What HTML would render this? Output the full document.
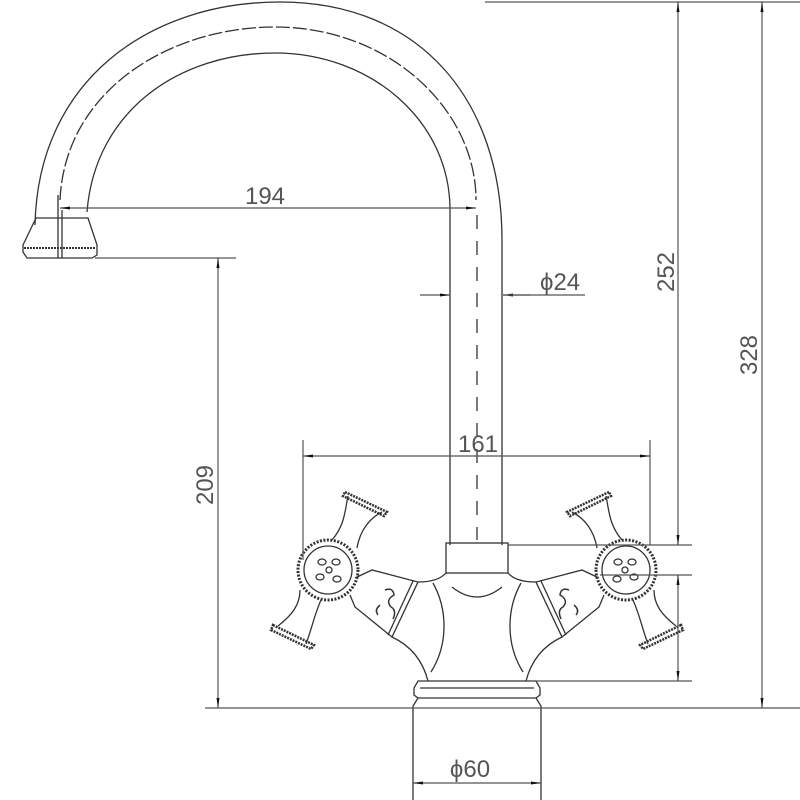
<!DOCTYPE html>
<html><head><meta charset="utf-8"><style>html,body{margin:0;padding:0;background:#fff}svg{display:block}text{font-family:"Liberation Sans",sans-serif;font-size:24px;fill:#555}</style></head>
<body>
<svg width="800" height="800" viewBox="0 0 800 800" xmlns="http://www.w3.org/2000/svg">
<defs>
<marker id="a" viewBox="0 0 10 4" refX="10" refY="2" markerWidth="10" markerHeight="4" orient="auto-start-reverse" markerUnits="userSpaceOnUse"><path d="M0,0.5 L10,2 L0,3.5z" fill="#111"/></marker>
<g id="h" fill="none" stroke="#333" stroke-width="1.3">
<circle cx="328" cy="570" r="30" stroke-width="3" stroke-dasharray="2,1.5"/>
<circle cx="328" cy="570" r="24"/>
<ellipse cx="322" cy="562" rx="4" ry="3"/><ellipse cx="336" cy="562" rx="4" ry="3"/><circle cx="329" cy="570" r="3"/><ellipse cx="320" cy="577" rx="4" ry="3"/><ellipse cx="337" cy="579" rx="4" ry="3"/>
<path d="M332,540 C345,525 345,510 348,496 M357,548 C360,530 370,518 382,512"/>
<path d="M345,492 L387,512 L384,516 L343,496z" stroke-width="2.5" stroke-dasharray="2,1"/>
<path d="M300,590 C300,605 292,615 278,626 M322,598 C315,612 313,625 306,644"/>
<path d="M273,625 L314,645 L311,649 L271,630z" stroke-width="2.5" stroke-dasharray="2,1"/>
<path d="M355,578 L372,570 L418,582 L392,637 L355,607 L350,595"/>
<line x1="413" y1="581" x2="388" y2="635"/>
<path d="M385,590 q8,-3 9,5 q-9,5 -3,12 q6,3 2,12 M380,605 q-6,5 -2,10" stroke-width="1.5"/>
<path d="M418,582 Q438,582 446,573"/>
<path d="M433,583 C448,610 448,645 431,672"/>
<path d="M392,637 Q420,650 428,681"/>
</g>
</defs>
<g fill="none" stroke="#333" stroke-width="1.3">
<path d="M35,225 C38,80 150,2 280,2 C420,2 502,100 502,240 L502,545"/>
<path d="M60,200 C65,90 170,27 275,27 C390,27 476,110 476,200" stroke-dasharray="14,3"/>
<path d="M87,212 C95,110 180,53 275,53 C370,53 450,120 450,210 L450,545"/>
<line x1="477" y1="215" x2="477" y2="540" stroke-dasharray="14,12"/>
<path d="M36,218 L88,218 L97,245 L97,255 L92,258 L27,258 L23,252 L23,245z"/>
<line x1="24" y1="248" x2="96" y2="248" stroke-dasharray="2,1" stroke-width="2"/>
<line x1="58" y1="195" x2="58" y2="258"/><line x1="62" y1="210" x2="62" y2="258"/>
<rect x="446" y="543" width="62" height="30"/>
<path d="M452,587 Q477,607 502,587"/>
<path d="M418,681 L536,681 L540,688 L540,695 L536,698 L418,698 L414,695 L414,688z"/>
<line x1="420" y1="688" x2="534" y2="688"/>
<path d="M418,698 L413,706 L413,800 M536,698 L541,706 L541,800"/>
</g>
<use href="#h"/>
<use href="#h" transform="translate(954,0) scale(-1,1)"/>
<g fill="none" stroke="#555" stroke-width="1.2">
<line x1="485" y1="2" x2="800" y2="2"/>
<line x1="205" y1="708" x2="800" y2="708"/>
<line x1="95" y1="258" x2="236" y2="258"/>
<line x1="508" y1="545" x2="692" y2="545"/>
<line x1="600" y1="575" x2="692" y2="575"/>
<line x1="530" y1="681" x2="692" y2="681"/>
<line x1="303" y1="440" x2="303" y2="560"/>
<line x1="650" y1="440" x2="650" y2="545"/>
<line x1="60" y1="208" x2="476" y2="208" marker-start="url(#a)" marker-end="url(#a)"/>
<line x1="420" y1="295" x2="450" y2="295" marker-end="url(#a)"/>
<line x1="530" y1="295" x2="503" y2="295" marker-end="url(#a)"/>
<line x1="503" y1="295" x2="585" y2="295"/>
<line x1="303" y1="456" x2="650" y2="456" marker-start="url(#a)" marker-end="url(#a)"/>
<line x1="678" y1="2" x2="678" y2="545" marker-start="url(#a)" marker-end="url(#a)"/>
<line x1="678" y1="575" x2="678" y2="681" marker-start="url(#a)" marker-end="url(#a)"/>
<line x1="762" y1="2" x2="762" y2="708" marker-start="url(#a)" marker-end="url(#a)"/>
<line x1="218" y1="258" x2="218" y2="708" marker-start="url(#a)" marker-end="url(#a)"/>
<line x1="413" y1="783" x2="541" y2="783" marker-start="url(#a)" marker-end="url(#a)"/>
</g>
<text x="265" y="204" text-anchor="middle">194</text>
<text x="540" y="290">ϕ24</text>
<text x="478" y="452" text-anchor="middle">161</text>
<text x="470" y="777" text-anchor="middle">ϕ60</text>
<text transform="translate(674,272) rotate(-90)" text-anchor="middle">252</text>
<text transform="translate(757,355) rotate(-90)" text-anchor="middle">328</text>
<text transform="translate(213,485) rotate(-90)" text-anchor="middle">209</text>
</svg>
</body></html>
